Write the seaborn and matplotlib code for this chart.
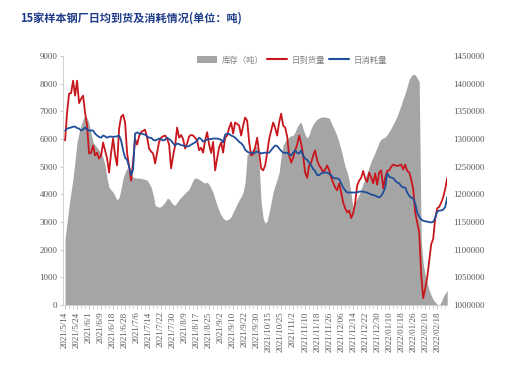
import numpy as np
import pandas as pd
import seaborn as sns
import matplotlib.pyplot as plt
from matplotlib.lines import Line2D
from matplotlib.patches import Patch
from matplotlib.ticker import MultipleLocator, FuncFormatter

# ---------------- data ----------------
tick_labels = ["2021/5/14", "2021/5/24", "2021/6/1", "2021/6/9", "2021/6/18", "2021/6/28",
               "2021/7/6", "2021/7/14", "2021/7/22", "2021/7/30", "2021/8/9", "2021/8/17",
               "2021/8/25", "2021/9/2", "2021/9/10", "2021/9/22", "2021/9/30", "2021/10/15",
               "2021/10/25", "2021/11/2", "2021/11/10", "2021/11/18", "2021/11/26", "2021/12/06",
               "2021/12/14", "2021/12/22", "2021/12/30", "2022/01/10", "2022/01/18", "2022/01/26",
               "2022/02/10", "2022/02/18"]

# 日到货量 (t/day, left axis)
arrival = [
    5950, 6960, 7640, 7660, 8110, 7570, 8110, 7300, 7460, 7570,
    6960, 6490, 5480, 5500, 5770, 5410, 5510, 5300, 5400, 5880,
    5590, 5300, 4790, 5500, 6020, 5410, 5050, 6380, 6800, 6880,
    6600, 5500, 5000, 4500, 5200, 6000, 5800, 6100, 6250, 6300,
    6340, 6050, 5660, 5550, 5480, 5120, 5510, 5900, 6050, 6100,
    6130, 6020, 5800, 4940, 5400, 5770, 6420, 6050, 6150, 6000,
    5660, 5840, 6100, 6150, 6130, 6050, 5950, 5600, 5690, 5510,
    5950, 6250, 5800, 5500, 5900, 4870, 5300, 5700, 5880, 5510,
    6050, 6130, 6400, 6600, 6200, 6600, 6550, 6490, 6130, 6490,
    6780, 6670, 5900, 5410, 5450, 5700, 6050, 5510, 4940, 4870,
    5050, 5500, 6000, 6300, 6600, 6400, 6130, 6600, 6920, 6490,
    6420, 6100, 5410, 5150, 5330, 5590, 5800, 6130, 5840, 5410,
    4790, 4600, 5050, 5150, 5410, 5590, 5230, 5050, 4950, 4800,
    4900, 5050, 4870, 4610, 4430, 4250, 4150, 4400, 4070, 3710,
    3500, 3350, 3420, 3150, 3320, 3700, 4320, 4500, 4600, 4850,
    4580, 4450, 4790, 4610, 4400, 4760, 4350, 4790, 4870, 4220,
    4600, 4850, 4870, 5000, 5080, 5050, 5030, 5050, 5080, 4900,
    5080, 4850, 4800, 4550, 4200, 3350, 2990, 2630, 1100, 250,
    600, 1000, 1600, 2200, 2400, 3130, 3500, 3550, 3710, 3900,
    4200, 4600]

# 日消耗量 (t/day, left axis)
consumption = [
    6310, 6380, 6400, 6420, 6450, 6450, 6400, 6380, 6310, 6350,
    6420, 6350, 6310, 6310, 6310, 6200, 6130, 6080, 6050, 6130,
    6100, 6050, 6090, 6090, 6080, 6090, 6100, 6130, 5950, 5600,
    5330, 5250, 5000, 4700, 4900, 6200, 6240, 6200, 6200, 6180,
    6160, 6100, 6050, 6050, 5980, 5950, 5980, 6020, 6000, 5950,
    5980, 6050, 6000, 5950, 5850, 5770, 5840, 5820, 5780, 5770,
    5750, 5730, 5750, 5800, 5840, 5880, 5950, 6050, 6000, 5910,
    5950, 5980, 6000, 6000, 6020, 6020, 6020, 6000, 5980, 5880,
    6160, 6200, 6180, 6130, 6100, 6050, 5980, 5900, 5850, 5770,
    5620, 5550, 5510, 5510, 5500, 5510, 5550, 5520, 5480, 5500,
    5510, 5510, 5510, 5600, 5690, 5770, 5750, 5660, 5580, 5510,
    5500, 5510, 5450, 5410, 5510, 5590, 5500, 5480, 5590, 5400,
    5300, 5250, 5150, 5050, 4920, 4850, 4700, 4700, 4760, 4790,
    4790, 4790, 4750, 4690, 4600, 4580, 4580, 4550, 4400, 4250,
    4150, 4070, 4070, 4070, 4070, 4070, 4080, 4100, 4110, 4100,
    4080, 4070, 4030, 4000, 3980, 3960, 3920, 3890, 3950, 4070,
    4250, 4760, 4650, 4610, 4590, 4500, 4430, 4400, 4300, 4250,
    4250, 4070, 3950, 3880, 3860, 3680, 3350, 3200, 3100, 3050,
    3030, 3020, 3000, 2990, 3010, 3150, 3380, 3420, 3420, 3450,
    3550, 3900]

# 库存 (t, right axis)
inventory = [
    1120000, 1150000, 1180000, 1205000, 1229500, 1262000, 1294500, 1312000, 1325000, 1336000,
    1343300, 1338000, 1328000, 1310000, 1294500, 1289000, 1285000, 1280000, 1273000, 1266000,
    1253000, 1228000, 1213000, 1208000, 1204200, 1197000, 1189700, 1195000, 1210000, 1229500,
    1240000, 1247600, 1241000, 1235000, 1231300, 1230000, 1229500, 1229500, 1229000, 1228000,
    1227000, 1225900, 1220000, 1213000, 1200000, 1180700, 1178000, 1177100, 1178000, 1182000,
    1186100, 1193000, 1192000, 1186100, 1182000, 1180700, 1186000, 1191000, 1195000, 1198800,
    1203000, 1206000, 1210000, 1218000, 1225900, 1230000, 1229000, 1227000, 1225000, 1222000,
    1220500, 1222300, 1218000, 1211400, 1203000, 1191000, 1180000, 1170000, 1162600, 1157000,
    1154000, 1154000, 1156000, 1160000, 1168000, 1175300, 1183000, 1190000, 1196000, 1204200,
    1222300, 1272000, 1275000, 1279000, 1283000, 1288000, 1285000, 1253000, 1186100, 1157200,
    1148200, 1152000, 1168000, 1186100, 1205000, 1217000, 1227000, 1240000, 1270000, 1289100,
    1296000, 1300000, 1304000, 1306000, 1307200, 1313000, 1322000, 1328000, 1330700, 1318000,
    1308000, 1302000, 1308000, 1319800, 1327000, 1332000, 1336000, 1338000, 1339700, 1340000,
    1340000, 1339000, 1337900, 1330000, 1321600, 1314000, 1305000, 1293000, 1280100, 1265000,
    1250000, 1240000, 1225000, 1200000, 1172000, 1186100, 1193000, 1200000, 1210000, 1220000,
    1229500, 1239000, 1250000, 1260000, 1268000, 1276500, 1285000, 1295000, 1300000, 1302000,
    1303600, 1308000, 1314000, 1320000, 1327000, 1334300, 1342000, 1352000, 1362000, 1373000,
    1383100, 1395000, 1408000, 1414000, 1417400, 1416000, 1410200, 1404000, 1118000, 1075000,
    1054200, 1040000, 1027000, 1018000, 1010000, 1005400, 1002000, 1000000, 1006000, 1015000,
    1021000, 1027100]

RED = '#c8161d'
BLUE = '#1f4e9a'
GREY_AREA = '#a5a5a5'
TXT = '#595959'
CJK = ['Noto Sans CJK SC', 'DejaVu Sans']

df = pd.DataFrame({
    'idx': np.arange(len(arrival)),
    'arrival': arrival,
    'consumption': consumption,
    'inventory': inventory,
})

sns.set_theme(style="white")
plt.rcParams['font.family'] = ['Liberation Serif', 'Noto Sans CJK SC', 'DejaVu Sans']

fig, ax = plt.subplots(figsize=(5.17, 3.69), dpi=100)
fig.subplots_adjust(left=0.122, right=0.865, top=0.848, bottom=0.173)
ax2 = ax.twinx()

# inventory area on the right axis, lines on the left axis drawn above it
ax2.fill_between(df['idx'], 1000000, df['inventory'], color=GREY_AREA, lw=0)
sns.lineplot(data=df, x='idx', y='arrival', ax=ax, color=RED, lw=1.3)
sns.lineplot(data=df, x='idx', y='consumption', ax=ax, color=BLUE, lw=1.3)
ax.set_zorder(ax2.get_zorder() + 1)
ax.patch.set_visible(False)

ax.set_xlim(-1, len(arrival) - 1)
ax.set_ylim(0, 9000)
ax2.set_ylim(1000000, 1450000)
ax.set_yticks(range(0, 9001, 1000))
ax2.set_yticks(range(1000000, 1450001, 50000))
ax2.yaxis.set_major_formatter(FuncFormatter(lambda v, _: f'{int(v)}'))
ax.set_xticks(range(0, 6 * len(tick_labels), 6))
ax.set_xticklabels(tick_labels, rotation=90)
ax.xaxis.set_minor_locator(MultipleLocator(2))
ax.set_xlabel('')
ax.set_ylabel('')

ax.tick_params(axis='x', which='major', bottom=True, length=3, width=0.6, color='#bfbfbf',
               labelsize=6.5, labelcolor=TXT, pad=1.5)
ax.tick_params(axis='x', which='minor', bottom=True, length=2, width=0.5, color='#bfbfbf')
ax.tick_params(axis='y', left=True, length=2.5, width=0.6, color='#bfbfbf',
               labelsize=6.5, labelcolor=TXT, pad=1.5)
ax2.tick_params(axis='y', right=False, length=0, labelsize=6.5, labelcolor=TXT, pad=4)

for s in ['top', 'right']:
    ax.spines[s].set_visible(False)
for s in ['left', 'bottom']:
    ax.spines[s].set_color('#d0d0d0')
    ax.spines[s].set_linewidth(0.7)
for s in ax2.spines.values():
    s.set_visible(False)

fig.text(20 / 517, 1 - 18 / 369, '15家样本钢厂日均到货及消耗情况(单位：吨)',
         fontsize=8, fontweight='bold', color='#1f3c88', family=CJK, va='center', ha='left')

handles = [Patch(facecolor=GREY_AREA, edgecolor='none'),
           Line2D([], [], color=RED, lw=1.5),
           Line2D([], [], color=BLUE, lw=1.5)]
fig.legend(handles, ['库存（吨）', '日到货量', '日消耗量'], loc='center left',
           bbox_to_anchor=(193 / 517, 1 - 60 / 369), ncol=3, frameon=False,
           prop={'family': CJK, 'size': 6}, labelcolor='#7f7f7f', borderpad=0,
           handlelength=2.4, handleheight=0.8, handletextpad=0.5, columnspacing=0.5)

fig.savefig('out.png', dpi=100)
